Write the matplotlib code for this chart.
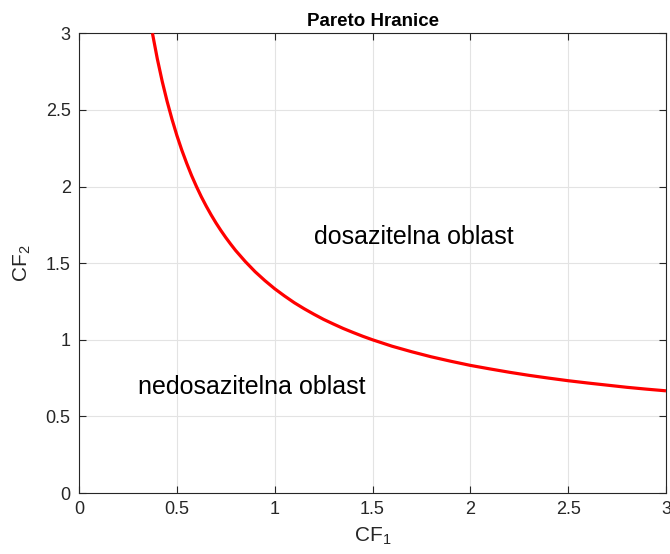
import matplotlib
matplotlib.use("Agg")
import matplotlib.pyplot as plt

plt.rcParams['font.family'] = ['Liberation Sans', 'DejaVu Sans']
plt.rcParams['mathtext.default'] = 'regular'

# Pareto front points (CF1, CF2)
cf1 = [0.375, 0.4, 0.425, 0.45, 0.475, 0.5, 0.525, 0.55, 0.575, 0.6, 0.625,
       0.65, 0.675, 0.7, 0.725, 0.75, 0.775, 0.8, 0.85, 0.9, 0.95, 1.0, 1.05,
       1.1, 1.15, 1.2, 1.25, 1.3, 1.35, 1.4, 1.45, 1.5, 1.6, 1.7, 1.8, 1.9,
       2.0, 2.1, 2.2, 2.3, 2.4, 2.5, 2.6, 2.7, 2.8, 2.9, 3.0]
cf2 = [3.000, 2.833, 2.686, 2.556, 2.439, 2.333, 2.238, 2.152, 2.072, 2.000,
       1.933, 1.872, 1.815, 1.762, 1.713, 1.667, 1.624, 1.583, 1.510, 1.444,
       1.386, 1.333, 1.286, 1.242, 1.203, 1.167, 1.133, 1.103, 1.074, 1.048,
       1.023, 1.000, 0.958, 0.922, 0.889, 0.860, 0.833, 0.810, 0.788, 0.768,
       0.750, 0.733, 0.718, 0.704, 0.690, 0.678, 0.667]

ticks = [0, 0.5, 1, 1.5, 2, 2.5, 3]
tick_labels = ['0', '0.5', '1', '1.5', '2', '2.5', '3']

fig = plt.figure(figsize=(6.7, 5.54), dpi=100)
ax = fig.add_axes([0.118, 0.110, 0.876, 0.830])

ax.plot(cf1, cf2, color='#ff0000', linewidth=2.3, zorder=3,
        solid_joinstyle='round', solid_capstyle='butt')

ax.set_xlim(0, 3)
ax.set_ylim(0, 3)
ax.set_xticks(ticks)
ax.set_xticklabels(tick_labels)
ax.set_yticks(ticks)
ax.set_yticklabels(tick_labels)

ax.grid(True, color='#e3e3e3', linewidth=0.8)
ax.set_axisbelow(True)
for s in ax.spines.values():
    s.set_color('#262626')
    s.set_linewidth(0.8)
ax.tick_params(direction='in', top=True, right=True, length=5, width=0.8,
               colors='#262626', labelsize=13, pad=6)

ax.set_title('Pareto Hranice', fontsize=13.5, fontweight='bold', pad=5)
ax.set_xlabel('CF$_1$', fontsize=15, color='#262626', labelpad=5)
ax.set_ylabel('CF$_2$', fontsize=15, color='#262626', labelpad=9)

ax.text(0.3, 0.69, 'nedosazitelna oblast', fontsize=18, va='center', ha='left')
ax.text(1.2, 1.67, 'dosazitelna oblast', fontsize=18, va='center', ha='left')

fig.savefig('out.png', dpi=100)
